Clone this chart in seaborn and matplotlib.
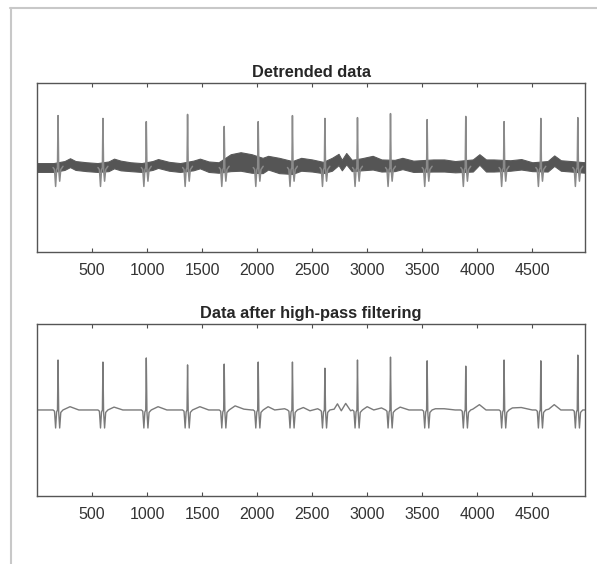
import matplotlib
matplotlib.use("Agg")
import matplotlib.pyplot as plt
import seaborn as sns
import numpy as np
import pandas as pd
from matplotlib.lines import Line2D

sns.set_style("white")
plt.rcParams['font.family'] = ['Liberation Sans', 'DejaVu Sans']

# ---------------------------------------------------------------------------
# Data (samples on x, signal units on y)
# ---------------------------------------------------------------------------
beat_pos = [191, 599, 993, 1368, 1701, 2010, 2321, 2616, 2912, 3212,
            3545, 3896, 4244, 4578, 4914]
r_top = [1.29, 1.22, 1.14, 1.32, 1.02, 1.14, 1.29, 1.22, 1.24, 1.34,
         1.19, 1.27, 1.14, 1.22, 1.24]
r_bottom = [1.22, 1.17, 1.27, 1.10, 1.12, 1.17, 1.17, 1.02, 1.22, 1.29,
            1.20, 1.07, 1.22, 1.20, 1.34]

# QRS shape around each R peak (offset in samples, value; None = R peak)
qrs_offset = [-45, -32, -22, -13, -5, 0, 6, 15, 25, 45]
qrs_top = [0.0, -0.05, -0.47, -0.06, 0.0, None, -0.05, -0.34, -0.05, 0.03]
qrs_bottom = [0.0, -0.03, -0.44, -0.05, 0.0, None, -0.05, -0.44, -0.06, 0.0]

# detrended data: dark noisy band (centre and half thickness)
band_x = [0, 100, 150, 250, 300, 350, 450, 550, 650, 700, 760, 850, 950,
          1050, 1100, 1200, 1300, 1420, 1480, 1560, 1650, 1760, 1850, 1950,
          2050, 2100, 2200, 2320, 2400, 2500, 2600, 2680, 2740, 2770, 2810,
          2860, 2950, 3050, 3130, 3250, 3320, 3420, 3600, 3700, 3800, 3960,
          4020, 4080, 4150, 4300, 4400, 4500, 4640, 4700, 4760, 4850, 4980]
band_mid = [0.0, 0.0, 0.0, 0.05, 0.12, 0.05, 0.02, 0.0, 0.03, 0.10, 0.05,
            0.02, 0.0, 0.05, 0.10, 0.03, 0.0, 0.05, 0.10, 0.02, 0.0, 0.12,
            0.15, 0.10, 0.05, 0.12, 0.05, 0.0, 0.08, 0.05, 0.0, 0.08, 0.20,
            0.06, 0.22, 0.05, 0.08, 0.12, 0.05, 0.05, 0.10, 0.03, 0.05, 0.05,
            0.02, 0.05, 0.20, 0.05, 0.05, 0.05, 0.08, 0.02, 0.03, 0.17, 0.05,
            0.03, 0.0]
band_half = [0.11, 0.11, 0.11, 0.11, 0.11, 0.11, 0.11, 0.11, 0.12, 0.12,
             0.12, 0.11, 0.11, 0.11, 0.11, 0.11, 0.11, 0.12, 0.12, 0.13,
             0.13, 0.21, 0.23, 0.23, 0.19, 0.17, 0.19, 0.16, 0.16, 0.15,
             0.14, 0.16, 0.14, 0.13, 0.14, 0.14, 0.15, 0.17, 0.15, 0.14,
             0.14, 0.14, 0.15, 0.15, 0.14, 0.15, 0.13, 0.15, 0.15, 0.13,
             0.13, 0.11, 0.13, 0.13, 0.13, 0.13, 0.13]

# high-pass filtered data: baseline between beats
hp_x = [0, 100, 300, 380, 500, 700, 780, 900, 1100, 1180, 1300, 1480, 1560,
        1650, 1800, 1880, 1950, 2100, 2160, 2250, 2420, 2480, 2550, 2700,
        2730, 2765, 2805, 2850, 3000, 3060, 3130, 3300, 3380, 3450, 3620,
        3700, 3800, 3960, 4020, 4080, 4180, 4320, 4400, 4500, 4650, 4700,
        4760, 4860, 4980]
hp_y = [0.0, 0.0, 0.08, 0.0, 0.0, 0.07, 0.0, 0.0, 0.08, 0.0, 0.0, 0.08, 0.0,
        0.0, 0.10, 0.02, 0.0, 0.08, 0.0, 0.03, 0.06, -0.02, 0.03, 0.02,
        0.15, -0.02, 0.16, -0.02, 0.08, 0.0, 0.05, 0.07, 0.0, 0.0, 0.03,
        0.03, 0.0, 0.02, 0.13, 0.0, 0.0, 0.05, 0.06, 0.0, 0.02, 0.13,
        0.0, 0.0, 0.0]

x_ticks = [500, 1000, 1500, 2000, 2500, 3000, 3500, 4000, 4500]
x_max = 4980
titles = ["Detrended data", "Data after high-pass filtering"]


def beat_points(shape, peaks):
    xs, ys = [], []
    for pos, amp in zip(beat_pos, peaks):
        for off, val in zip(qrs_offset, shape):
            xs.append(pos + off)
            ys.append(amp if val is None else val)
    return xs, ys


def style_axis(ax, title):
    ax.set_xlim(0, x_max)
    ax.set_ylim(-2.1, 2.1)
    ax.set_xticks(x_ticks)
    ax.set_yticks([])
    ax.tick_params(axis='x', direction='in', length=3, width=0.8,
                   top=True, bottom=True, labelsize=11.5, colors='#4d4d4d',
                   labelcolor='#333333', pad=8)
    for sp in ax.spines.values():
        sp.set_color('#555555')
        sp.set_linewidth(1.0)
    ax.set_title(title, fontsize=11.8, fontweight='bold', pad=4)
    ax.set_xlabel('')
    ax.set_ylabel('')


fig = plt.figure(figsize=(5.97, 5.64), dpi=100)
ax1 = fig.add_axes([0.062, 0.5532, 0.918, 0.2996])
ax2 = fig.add_axes([0.062, 0.1206, 0.918, 0.305])

# top panel
bx = np.array(band_x)
bm = np.array(band_mid)
bh = np.array(band_half)
ax1.fill_between(bx, bm - bh, bm + bh, color='#555555', linewidth=0.8,
                 edgecolor='#5a5a5a')
tx, ty = beat_points(qrs_top, r_top)
top_df = pd.DataFrame({'sample': tx, 'value': ty})
for i in range(len(beat_pos)):
    seg = top_df.iloc[i * len(qrs_offset):(i + 1) * len(qrs_offset)]
    sns.lineplot(data=seg, x='sample', y='value', ax=ax1, color='#8a8a8a',
                 linewidth=1.1, estimator=None, sort=False)
style_axis(ax1, titles[0])

# bottom panel
bxs, bys = beat_points(qrs_bottom, r_bottom)
hp_df = pd.DataFrame({'sample': list(hp_x) + bxs, 'value': list(hp_y) + bys})
hp_df = hp_df.sort_values('sample')
sns.lineplot(data=hp_df, x='sample', y='value', ax=ax2, color='#7a7a7a',
             linewidth=1.0, estimator=None, sort=False)
style_axis(ax2, titles[1])

# light frame of the original screenshot
fig.add_artist(Line2D([10 / 597, 1], [1 - 8 / 564, 1 - 8 / 564],
                      transform=fig.transFigure, color='#c8c8c8', linewidth=1.5))
fig.add_artist(Line2D([10.5 / 597, 10.5 / 597], [0, 1 - 8 / 564],
                      transform=fig.transFigure, color='#c8c8c8', linewidth=1.5))

fig.savefig('out.png', dpi=100)
plt.close(fig)
